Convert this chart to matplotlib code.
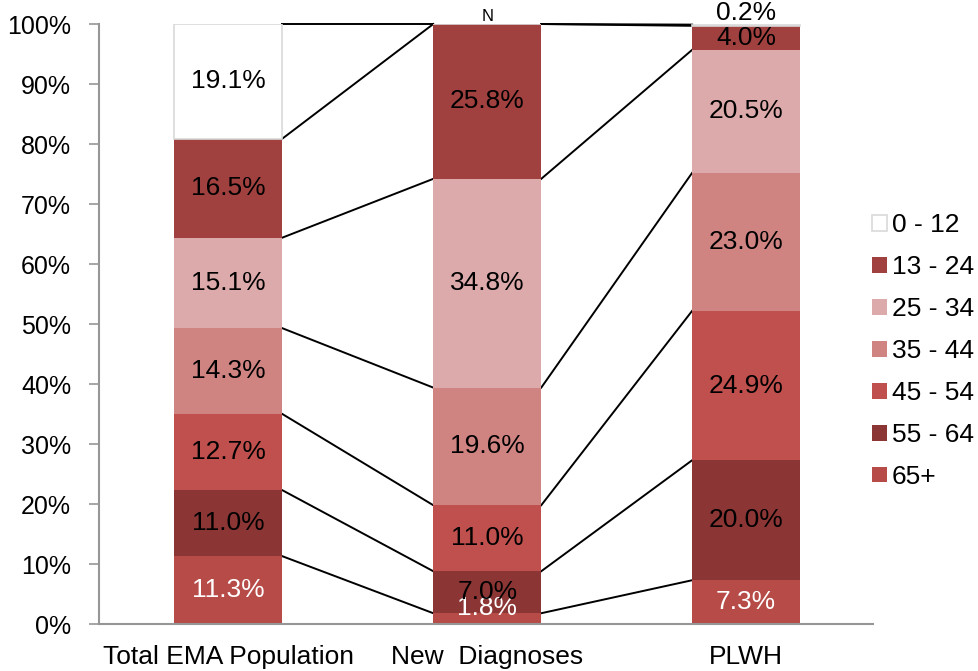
import matplotlib.pyplot as plt
import numpy as np

plt.rcParams['font.family'] = ['Liberation Sans', 'DejaVu Sans']

groups = ["Total EMA Population", "New  Diagnoses", "PLWH"]
ages = ["65+", "55 - 64", "45 - 54", "35 - 44", "25 - 34", "13 - 24", "0 - 12"]
values = {
    "65+": [11.3, 1.8, 7.3],
    "55 - 64": [11.0, 7.0, 20.0],
    "45 - 54": [12.7, 11.0, 24.9],
    "35 - 44": [14.3, 19.6, 23.0],
    "25 - 34": [15.1, 34.8, 20.5],
    "13 - 24": [16.5, 25.8, 4.0],
    "0 - 12": [19.1, 0.0, 0.2],
}
labels = {
    "65+": ["11.3%", "1.8%", "7.3%"],
    "55 - 64": ["11.0%", "7.0%", "20.0%"],
    "45 - 54": ["12.7%", "11.0%", "24.9%"],
    "35 - 44": ["14.3%", "19.6%", "23.0%"],
    "25 - 34": ["15.1%", "34.8%", "20.5%"],
    "13 - 24": ["16.5%", "25.8%", "4.0%"],
    "0 - 12": ["19.1%", "N", "0.2%"],
}
colors = {
    "65+": "#b64b48",
    "55 - 64": "#8b3634",
    "45 - 54": "#c0504d",
    "35 - 44": "#cf8482",
    "25 - 34": "#dcaaaa",
    "13 - 24": "#a0413f",
    "0 - 12": "#ffffff",
}
text_colors = {
    "65+": "white", "55 - 64": "black", "45 - 54": "black", "35 - 44": "black",
    "25 - 34": "black", "13 - 24": "black", "0 - 12": "black",
}

fig = plt.figure(figsize=(9.79, 6.71), dpi=100)
ax = fig.add_axes([0.1011, 0.0700, 0.7906, 0.8942])

x = np.arange(len(groups))
width = 0.417
bottom = np.zeros(len(groups))
tops = {}
for age in ages:
    vals = np.array(values[age])
    edge = "#d9d9d9" if age == "0 - 12" else "none"
    ax.bar(x, vals, width, bottom=bottom, color=colors[age], edgecolor=edge,
           linewidth=1.2 if age == "0 - 12" else 0, label=age, zorder=2)
    for i, v in enumerate(vals):
        y = bottom[i] + v / 2
        size = 19
        if labels[age][i] == "N":
            y, size = 101.2, 12
        elif labels[age][i] == "0.2%":
            y = 101.9
        elif labels[age][i] == "1.8%":
            y = 2.6
        ax.text(x[i], y, labels[age][i], ha="center", va="center",
                fontsize=size, color=text_colors[age], zorder=4, clip_on=False)
    bottom = bottom + vals
    tops[age] = bottom.copy()

# series lines connecting segment tops
for age in ages:
    t = tops[age]
    for i in range(len(groups) - 1):
        ax.plot([x[i] + width / 2, x[i + 1] - width / 2], [min(t[i], 100), min(t[i + 1], 100)],
                color="black", linewidth=1.4, zorder=1, clip_on=False)

ax.set_xlim(-0.5, 2.49)
ax.set_ylim(0, 100)
ax.set_yticks(np.arange(0, 101, 10))
ax.set_yticklabels([f"{v}%" for v in range(0, 101, 10)], fontsize=18)
ax.set_xticks(x)
ax.set_xticklabels(groups, fontsize=19)
ax.tick_params(axis="x", length=0, pad=15)
ax.tick_params(axis="y", length=7, color="#969696", width=1.2, pad=13)
for s in ["top", "right"]:
    ax.spines[s].set_visible(False)
for s in ["left", "bottom"]:
    ax.spines[s].set_color("#969696")
    ax.spines[s].set_linewidth(1.5)

handles, lbls = ax.get_legend_handles_labels()
ax.legend(handles[::-1], lbls[::-1], loc="center left", bbox_to_anchor=(0.975, 0.455),
          frameon=False, fontsize=19, handlelength=0.55, handleheight=0.55,
          handletextpad=0.2, labelspacing=0.68, borderaxespad=0.3)

fig.savefig("out.png", dpi=100)
